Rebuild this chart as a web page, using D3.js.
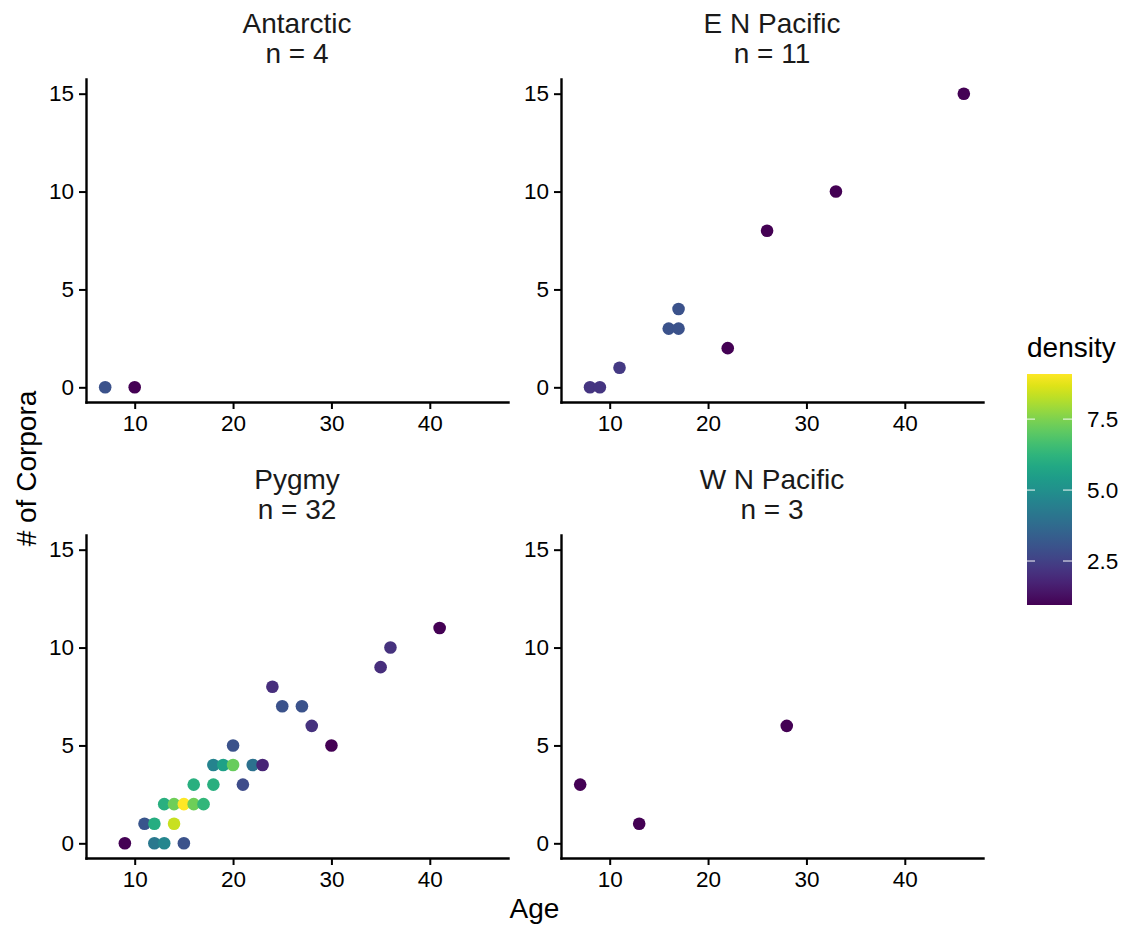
<!DOCTYPE html>
<html>
<head>
<meta charset="utf-8">
<script src="https://cdn.jsdelivr.net/npm/d3@7"></script>
<style>
  body { margin: 0; background: #fff; }
  text { font-family: "Liberation Sans", Arial, sans-serif; }
</style>
</head>
<body>
<script>
// panels in facet order
var panels = ["Antarctic", "E N Pacific", "Pygmy", "W N Pacific"];
var counts = [4, 11, 32, 3];

// [age, corpora, density]
var antarctic = [[7, 0, 3.0], [10, 0, 0.97]];
var enPacific = [
  [8, 0, 2.2], [9, 0, 2.2], [11, 1, 2.3], [16, 3, 3.0], [17, 3, 3.0],
  [17, 4, 3.0], [22, 2, 0.96], [26, 8, 0.95], [33, 10, 0.95], [46, 15, 0.95]
];
var pygmy = [
  [9, 0, 0.95], [12, 0, 4.2], [13, 0, 4.7], [15, 0, 3.0],
  [11, 1, 3.1], [12, 1, 6.0], [14, 1, 8.4],
  [13, 2, 6.1], [14, 2, 7.3], [15, 2, 9.09], [16, 2, 7.3], [17, 2, 6.3],
  [16, 3, 6.1], [18, 3, 6.1], [21, 3, 2.8],
  [18, 4, 4.6], [19, 4, 5.6], [20, 4, 7.2], [22, 4, 4.0], [23, 4, 1.8],
  [20, 5, 3.0], [24, 8, 2.0], [25, 7, 3.0], [27, 7, 3.0], [28, 6, 2.1],
  [30, 5, 0.95], [35, 9, 2.0], [36, 10, 2.1], [41, 11, 0.95]
];
var wnPacific = [[7, 3, 0.95], [13, 1, 0.95], [28, 6, 0.95]];
var panelData = [antarctic, enPacific, pygmy, wnPacific];

var xTicks = [10, 20, 30, 40];
var yTicks = [0, 5, 10, 15];
var legendTicks = [2.5, 5.0, 7.5];

var W = 1125, H = 926;
var svg = d3.select("body").append("svg")
    .attr("width", W)
    .attr("height", H);

var colX = [86, 561], pw = 422;
var rowY = [79, 535], ph = 323;

var allDens = [].concat.apply([], panelData).map(function(d) { return d[2]; });
var color = d3.scaleSequential(d3.interpolateViridis).domain(d3.extent(allDens));

var x = d3.scaleLinear().domain([5.05, 47.95]).range([0, pw]);
var y = d3.scaleLinear().domain([-0.75, 15.75]).range([ph, 0]);

panels.forEach(function(name, i) {
  var px = colX[i % 2], py = rowY[Math.floor(i / 2)];
  var g = svg.append("g").attr("transform", "translate(" + px + "," + py + ")");

  g.append("text")
      .attr("x", pw / 2).attr("y", -46)
      .attr("text-anchor", "middle")
      .attr("font-size", 28).attr("fill", "#1a1a1a")
      .text(name);
  g.append("text")
      .attr("x", pw / 2).attr("y", -16)
      .attr("text-anchor", "middle")
      .attr("font-size", 28).attr("fill", "#1a1a1a")
      .text("n = " + counts[i]);

  g.selectAll("circle")
      .data(panelData[i])
      .enter().append("circle")
      .attr("cx", function(d) { return x(d[0]); })
      .attr("cy", function(d) { return y(d[1]); })
      .attr("r", 6.3)
      .attr("fill", function(d) { return color(d[2]); });

  var ax = g.append("g")
      .attr("transform", "translate(0," + ph + ")")
      .call(d3.axisBottom(x).tickValues(xTicks).tickSize(7).tickSizeOuter(0).tickPadding(6));
  var ay = g.append("g")
      .call(d3.axisLeft(y).tickValues(yTicks).tickSize(7).tickSizeOuter(0).tickPadding(5));

  [ax, ay].forEach(function(a) {
    a.select(".domain").attr("stroke", "#000").attr("stroke-width", 2.4).attr("stroke-linecap", "square");
    a.selectAll(".tick line").attr("stroke", "#000").attr("stroke-width", 2);
    a.selectAll(".tick text").attr("font-size", 22.5).attr("fill", "#000")
        .attr("font-family", "Liberation Sans, Arial, sans-serif");
  });
});

// axis titles
svg.append("text")
    .attr("x", (colX[0] + colX[1] + pw) / 2).attr("y", 918)
    .attr("text-anchor", "middle")
    .attr("font-size", 28).attr("fill", "#000")
    .text("Age");
svg.append("text")
    .attr("transform", "translate(36," + (rowY[0] + rowY[1] + ph) / 2 + ") rotate(-90)")
    .attr("text-anchor", "middle")
    .attr("font-size", 28).attr("fill", "#000")
    .text("# of Corpora");

// colour bar legend
var lx = 1027, lw = 45, ly0 = 374, ly1 = 605;
var ly = d3.scaleLinear().domain(color.domain()).range([ly1, ly0]);

var grad = svg.append("defs").append("linearGradient")
    .attr("id", "dens").attr("x1", 0).attr("y1", 1).attr("x2", 0).attr("y2", 0);
d3.range(0, 1.0001, 0.05).forEach(function(t) {
  grad.append("stop").attr("offset", t).attr("stop-color", d3.interpolateViridis(t));
});

svg.append("text")
    .attr("x", lx).attr("y", 357)
    .attr("font-size", 28).attr("fill", "#000")
    .text("density");

svg.append("rect")
    .attr("x", lx).attr("y", ly0)
    .attr("width", lw).attr("height", ly1 - ly0)
    .attr("fill", "url(#dens)");

var lt = svg.selectAll("g.ltick").data(legendTicks).enter().append("g").attr("class", "ltick");
lt.append("line")
    .attr("x1", lx).attr("x2", lx + 8)
    .attr("y1", function(d) { return ly(d); }).attr("y2", function(d) { return ly(d); })
    .attr("stroke", "#fff").attr("stroke-width", 1.2).attr("opacity", 0.8);
lt.append("line")
    .attr("x1", lx + lw - 9).attr("x2", lx + lw)
    .attr("y1", function(d) { return ly(d); }).attr("y2", function(d) { return ly(d); })
    .attr("stroke", "#fff").attr("stroke-width", 1.2).attr("opacity", 0.8);
lt.append("text")
    .attr("x", lx + lw + 15)
    .attr("y", function(d) { return ly(d); })
    .attr("dy", "0.35em")
    .attr("font-size", 22.5).attr("fill", "#000")
    .text(function(d) { return d3.format(".1f")(d); });
</script>
</body>
</html>
